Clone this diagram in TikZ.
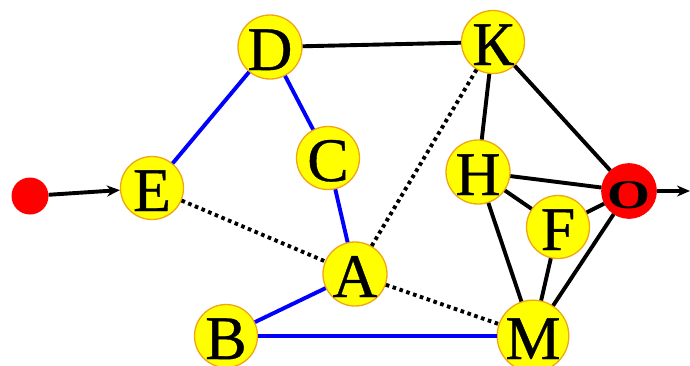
\documentclass[tikz,border=0pt]{standalone}
\usepackage{fontspec}
\setmainfont{Liberation Serif}
\newfontfamily\heavyserif{Liberation Serif}[FakeBold=0.6]
\usetikzlibrary{arrows.meta}
\definecolor{nodeyellow}{RGB}{255,255,0}
\definecolor{nodeborder}{RGB}{240,165,20}
\definecolor{edgeblue}{RGB}{0,0,255}
\definecolor{srcred}{RGB}{255,0,0}
\begin{document}
\begin{tikzpicture}[x=1pt,y=-1pt,
  vert/.style={circle,fill=nodeyellow,draw=nodeborder,line width=1.3pt,minimum size=63pt,inner sep=0pt,
    font=\heavyserif\fontsize{62}{62}\selectfont,text height=46pt,text depth=0pt},
  sink/.style={circle,fill=srcred,draw=srcred,line width=1pt,minimum size=53pt,inner sep=0pt,
    font=\fontsize{48}{48}\selectfont\bfseries,text height=34pt,text depth=0pt},
  src/.style={circle,fill=srcred,minimum size=37pt,inner sep=0pt},
  bedge/.style={line width=3.9pt,edgeblue},
  kedge/.style={line width=3.9pt,black},
  dedge/.style={line width=3.9pt,black,dash pattern=on 3.6pt off 3.6pt},
  arr/.style={line width=3.9pt,black,-{Stealth[length=13pt,width=11pt]}}]
\useasboundingbox (0,0) rectangle (690,365);
\node[src] (s) at (30,196) {};
\node[vert] (E) at (152,188) {E};
\node[vert] (D) at (270,47) {D};
\node[vert] (C) at (328,158) {C};
\node[vert] (A) at (355,274) {A};
\node[vert] (B) at (226,336) {B};
\node[vert] (K) at (493,42) {К};
\node[vert] (H) at (478,172) {H};
\node[vert] (F) at (558,227) {F};
\node[vert] (M) at (533,336) {M};
\node[sink] (O) at (629,191) {\scalebox{1.15}[0.85]{O}};
\coordinate (out) at (690,191);
\draw[arr] (s) -- (E);
\draw[bedge] (E) -- (D);
\draw[bedge] (D) -- (C);
\draw[bedge] (C) -- (A);
\draw[bedge] (A) -- (B);
\draw[bedge] (B) -- (M);
\draw[kedge] (D) -- (K);
\draw[dedge] (E) -- (A);
\draw[dedge] (A) -- (M);
\draw[dedge] (A) -- (K);
\draw[kedge] (K) -- (H);
\draw[kedge] (K) -- (O);
\draw[kedge] (H) -- (O);
\draw[kedge] (H) -- (F);
\draw[kedge] (F) -- (O);
\draw[kedge] (H) -- (M);
\draw[kedge] (F) -- (M);
\draw[kedge] (O) -- (M);
\draw[arr] (O) -- (out);
\end{tikzpicture}
\end{document}
